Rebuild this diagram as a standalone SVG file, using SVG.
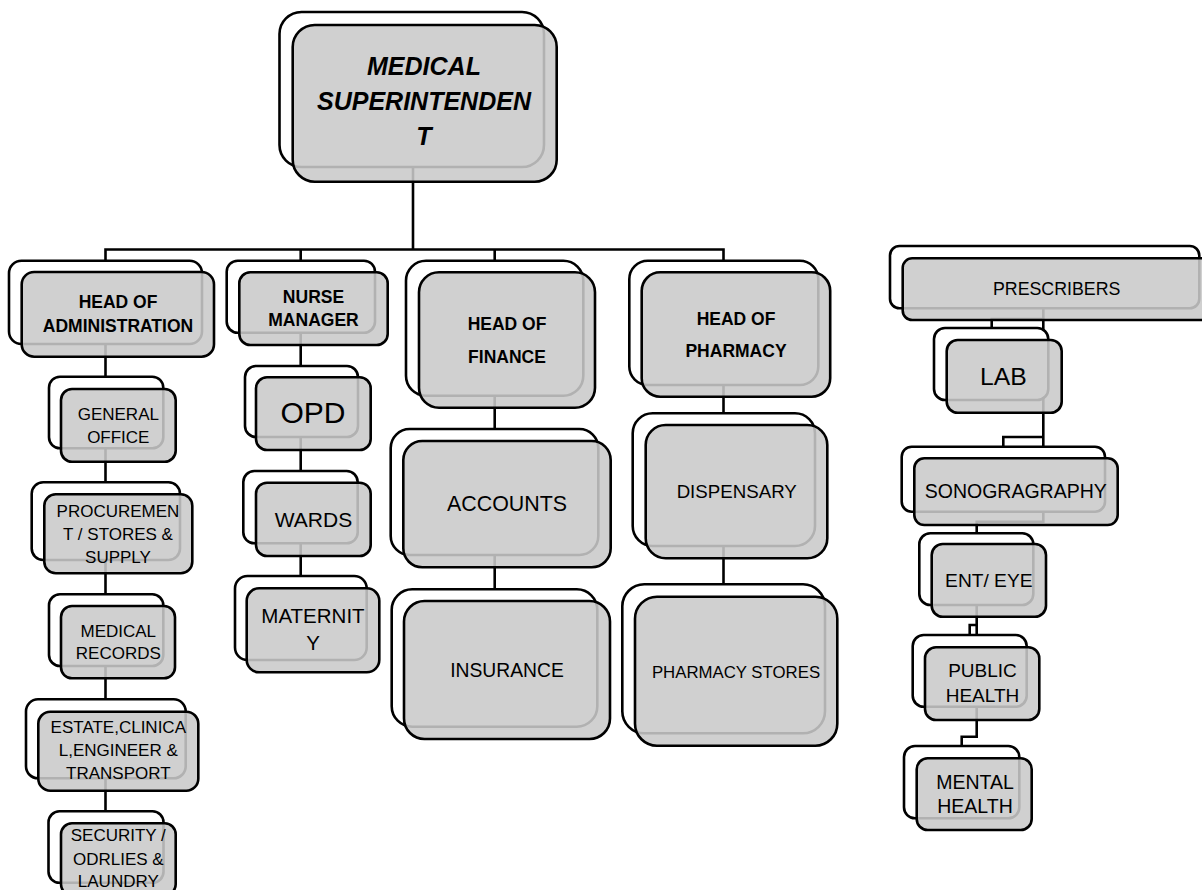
<svg xmlns="http://www.w3.org/2000/svg" width="1202" height="890" viewBox="0 0 1202 890">
<style>
.b{fill:#fff;stroke:#000;stroke-width:2.6}
.f{fill:#c9c9c9;fill-opacity:.88;stroke:#000;stroke-width:2.6}
.c{fill:none;stroke:#000;stroke-width:2.6}
text{font-family:"Liberation Sans",Arial,sans-serif;fill:#000;text-anchor:middle}
.t{font-weight:bold;font-style:italic;font-size:25px}
.h{font-weight:bold;font-size:17.5px}
.s{font-size:17px}
</style>
<rect width="1202" height="890" fill="#fff"/>
<g id="connectors">
<path class="c" d="M413,167V249.5M105.5,260.7V249.5H723.5V260.7M300.7,249.5V260.7M494.7,249.5V260.7"/>
<path class="c" d="M105.5,344V811.3"/>
<path class="c" d="M300.7,332.7V576"/>
<path class="c" d="M494.7,395.7V589.3"/>
<path class="c" d="M723.5,385V584.3"/>
<path class="c" d="M1043.3,308.3V521.7H976.7V736.7H961.7V746M1043.3,319H991.7V328M1043.3,437H1003.3V446.7M976.7,625H969.7V635"/>
</g>
<g id="n-super">
<rect class="b" x="279.5" y="12" width="264.5" height="155" rx="22"/>
<rect class="f" x="292.7" y="25" width="264" height="156.7" rx="22"/>
<text class="t" x="424" y="75">MEDICAL</text>
<text class="t" x="424" y="110">SUPERINTENDEN</text>
<text class="t" x="424" y="145">T</text>
</g>
<g id="n-admin">
<rect class="b" x="9" y="260.7" width="193" height="83.3" rx="12.5"/>
<rect class="f" x="21.7" y="272" width="192.3" height="84.7" rx="12.5"/>
<text class="h" x="118" y="308">HEAD OF</text>
<text class="h" x="118" y="331.7">ADMINISTRATION</text>
</g>
<g id="n-nurse">
<rect class="b" x="226.7" y="260.7" width="148.3" height="72" rx="11"/>
<rect class="f" x="239.3" y="272.3" width="148.4" height="72.7" rx="11"/>
<text class="h" x="313.5" y="303.3">NURSE</text>
<text class="h" x="313.5" y="326">MANAGER</text>
</g>
<g id="n-finance">
<rect class="b" x="406" y="260.7" width="177.3" height="135" rx="20"/>
<rect class="f" x="419" y="272.3" width="176" height="135.4" rx="20"/>
<text class="h" x="507" y="330">HEAD OF</text>
<text class="h" x="507" y="362.7">FINANCE</text>
</g>
<g id="n-pharmacy">
<rect class="b" x="629.3" y="260.7" width="189" height="124.3" rx="18.5"/>
<rect class="f" x="641.7" y="272.3" width="188.5" height="124.4" rx="18.5"/>
<text class="h" x="736" y="325">HEAD OF</text>
<text class="h" x="736" y="357.3">PHARMACY</text>
</g>
<g id="n-prescribers">
<rect class="b" x="890" y="246" width="309.3" height="62.3" rx="9.5"/>
<rect class="f" x="902.7" y="258.3" width="310" height="61.7" rx="9.5"/>
<text x="1056.7" y="295" style="font-size:17.8px">PRESCRIBERS</text>
</g>
<g id="n-general">
<rect class="b" x="49" y="376.7" width="114.3" height="71.6" rx="11"/>
<rect class="f" x="61" y="389" width="114.7" height="72.7" rx="11"/>
<text class="s" x="118.3" y="420">GENERAL</text>
<text class="s" x="118.3" y="442.7">OFFICE</text>
</g>
<g id="n-procurement">
<rect class="b" x="31.7" y="482.3" width="148.3" height="77.7" rx="11.5"/>
<rect class="f" x="44.3" y="494.3" width="148" height="79" rx="11.5"/>
<text class="s" x="118" y="517.3">PROCUREMEN</text>
<text class="s" x="118" y="540">T / STORES &amp;</text>
<text class="s" x="118" y="563.3">SUPPLY</text>
</g>
<g id="n-records">
<rect class="b" x="49" y="594.3" width="114.3" height="71.7" rx="11"/>
<rect class="f" x="61" y="606" width="114" height="72.3" rx="11"/>
<text class="s" x="118.3" y="636.7">MEDICAL</text>
<text class="s" x="118.3" y="659.3">RECORDS</text>
</g>
<g id="n-estate">
<rect class="b" x="26" y="699.3" width="159.7" height="79" rx="12"/>
<rect class="f" x="38.3" y="711.7" width="160" height="79" rx="12"/>
<text class="s" x="118.3" y="733.3">ESTATE,CLINICA</text>
<text class="s" x="118.3" y="756">L,ENGINEER &amp;</text>
<text class="s" x="118.3" y="779.3">TRANSPORT</text>
</g>
<g id="n-security">
<rect class="b" x="48.5" y="811.3" width="115" height="71.5" rx="11"/>
<rect class="f" x="61" y="823.3" width="114.7" height="72" rx="11"/>
<text class="s" x="118.3" y="841">SECURITY /</text>
<text class="s" x="118.3" y="865">ODRLIES &amp;</text>
<text class="s" x="118.3" y="887.3">LAUNDRY</text>
</g>
<g id="n-opd">
<rect class="b" x="245" y="366" width="113" height="71" rx="11"/>
<rect class="f" x="256" y="377.3" width="114.7" height="72.7" rx="11"/>
<text x="313" y="423" style="font-size:30px">OPD</text>
</g>
<g id="n-wards">
<rect class="b" x="243.3" y="471" width="114.4" height="72.3" rx="11"/>
<rect class="f" x="256" y="482.7" width="114.7" height="73.3" rx="11"/>
<text x="313.5" y="526.7" style="font-size:21px">WARDS</text>
</g>
<g id="n-maternity">
<rect class="b" x="235" y="576" width="131.7" height="84" rx="12.5"/>
<rect class="f" x="246.7" y="588.3" width="132.6" height="84" rx="12.5"/>
<text x="313" y="623.3" style="font-size:20.5px">MATERNIT</text>
<text x="313" y="650" style="font-size:20.5px">Y</text>
</g>
<g id="n-accounts">
<rect class="b" x="390.7" y="429" width="207.6" height="126" rx="19"/>
<rect class="f" x="403.3" y="441" width="207.4" height="126.3" rx="19"/>
<text x="507" y="510.7" style="font-size:21.4px">ACCOUNTS</text>
</g>
<g id="n-insurance">
<rect class="b" x="391.7" y="589.3" width="205.6" height="137.4" rx="20.5"/>
<rect class="f" x="404" y="601" width="206" height="138" rx="20.5"/>
<text x="507" y="676.7" style="font-size:19.3px">INSURANCE</text>
</g>
<g id="n-dispensary">
<rect class="b" x="632.7" y="413.3" width="182.3" height="132.7" rx="20"/>
<rect class="f" x="645.7" y="425" width="181.6" height="133.3" rx="20"/>
<text x="736.7" y="498.3" style="font-size:18.7px">DISPENSARY</text>
</g>
<g id="n-stores">
<rect class="b" x="622.3" y="584.3" width="202.7" height="149" rx="22"/>
<rect class="f" x="635" y="596.7" width="202.3" height="149" rx="22"/>
<text x="736" y="678.3" style="font-size:16.8px">PHARMACY STORES</text>
</g>
<g id="n-lab">
<rect class="b" x="934" y="328" width="114.3" height="72" rx="11"/>
<rect class="f" x="946.7" y="340" width="115" height="72.7" rx="11"/>
<text x="1003.3" y="385" style="font-size:24.7px">LAB</text>
</g>
<g id="n-sono">
<rect class="b" x="901.7" y="446.7" width="203.3" height="65" rx="10"/>
<rect class="f" x="914.3" y="458.3" width="203.4" height="66.7" rx="10"/>
<text x="1015.8" y="498.3" style="font-size:19.5px">SONOGRAGRAPHY</text>
</g>
<g id="n-ent">
<rect class="b" x="919.3" y="533.3" width="114" height="71.7" rx="11"/>
<rect class="f" x="931.7" y="544" width="114.3" height="72.7" rx="11"/>
<text x="988.8" y="587.3" style="font-size:19.2px">ENT/ EYE</text>
</g>
<g id="n-public">
<rect class="b" x="912.7" y="635" width="114" height="71.7" rx="11"/>
<rect class="f" x="925" y="647.3" width="114.3" height="72.7" rx="11"/>
<text x="982.5" y="676.7" style="font-size:19px">PUBLIC</text>
<text x="982.5" y="702.3" style="font-size:19px">HEALTH</text>
</g>
<g id="n-mental">
<rect class="b" x="904" y="746" width="115.3" height="72.3" rx="11"/>
<rect class="f" x="916.7" y="758.3" width="115" height="71.7" rx="11"/>
<text x="975" y="789.3" style="font-size:19.5px">MENTAL</text>
<text x="975" y="813.3" style="font-size:19.5px">HEALTH</text>
</g>
</svg>
